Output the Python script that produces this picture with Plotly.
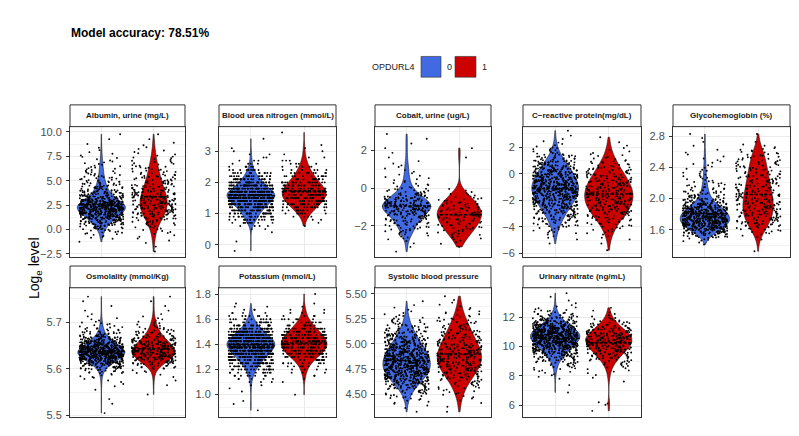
import plotly.graph_objects as go

# ---------------- DATA (histogram counts) ----------------
panel_titles = ["Albumin, urine (mg/L)", "Blood urea nitrogen (mmol/L)", "Cobalt, urine (ug/L)",
                "C\u2212reactive protein(mg/dL)", "Glycohemoglobin (%)", "Osmolality (mmol/Kg)",
                "Potassium (mmol/L)", "Systolic blood pressure", "Urinary nitrate (ng/mL)"]
group_labels = ["0", "1"]

# lower edge of first bin, bin width (log_e level)
bin_lo = [-2.5, -0.25, -3.5, -6.0, 1.3, 5.5, 0.8375, 4.3, 5.5]
bin_step = [0.5, 0.1, 0.25, 0.5, 0.05, 0.01, 0.025, 0.05, 0.25]
# measured on a discrete grid (stripes) or continuous
discrete = [False, True, False, False, False, False, True, False, False]

albumin_0 = [0, 0, 1, 5, 11, 22, 40, 65, 90, 110, 90, 55, 35, 25, 18, 13, 10, 8, 6, 4, 3, 2, 1, 1, 1]
albumin_1 = [1, 1, 2, 3, 5, 8, 13, 20, 26, 30, 31, 29, 25, 21, 18, 15, 12, 10, 8, 6, 4, 3, 2, 1, 1]
bun_0 = [1, 0, 0, 1, 0, 0, 1, 2, 4, 10, 15, 18, 25, 30, 38, 48, 56, 64, 70, 62, 50, 40, 32, 25, 18,
         13, 9, 6, 4, 3, 2, 2, 1, 1, 0, 0, 1, 0, 0]
bun_1 = [0, 0, 0, 0, 0, 0, 0, 0, 1, 1, 2, 4, 7, 10, 14, 18, 21, 24, 25, 25, 23, 20, 17, 14, 11,
         9, 7, 5, 4, 3, 2, 1, 1, 1, 1, 0, 0, 0, 1]
cobalt_0 = [1, 1, 2, 5, 9, 12, 16, 20, 28, 38, 40, 30, 20, 12, 7, 5, 4, 3, 3, 2, 1, 1, 1, 1, 1, 1, 0]
cobalt_1 = [0, 1, 3, 5, 8, 10, 12, 14, 15, 14, 12, 9, 6, 3, 0, 0, 0, 0, 0, 0, 1, 0, 1, 0, 0, 0, 0]
crp_0 = [0, 1, 4, 10, 20, 30, 45, 62, 76, 85, 83, 72, 58, 42, 25, 12, 5, 2, 1]
crp_1 = [1, 1, 4, 8, 14, 22, 31, 36, 38, 37, 33, 27, 20, 14, 8, 4, 2, 1, 0]
glyco_0 = [0, 0, 2, 6, 20, 40, 60, 75, 80, 80, 70, 55, 38, 26, 18, 13, 10, 8, 6, 5,
           4, 4, 3, 3, 2, 2, 1, 1, 1, 1, 1]
glyco_1 = [1, 0, 0, 1, 3, 6, 10, 13, 15, 16, 17, 18, 18, 17, 16, 15, 14, 14, 13, 12,
           11, 10, 10, 9, 8, 7, 5, 3, 1, 0, 1]
osmo_0 = [1, 0, 1, 1, 0, 1, 2, 3, 6, 14, 35, 70, 110, 130, 110, 75, 45, 22, 12, 7, 4, 2, 1, 1, 1, 1, 0]
osmo_1 = [0, 0, 0, 0, 1, 0, 1, 1, 2, 5, 14, 30, 45, 52, 48, 38, 26, 17, 11, 7, 4, 2, 1, 1, 1, 1, 0]
potassium_0 = [0, 1, 0, 1, 1, 0, 0, 1, 1, 2, 3, 5, 8, 12, 17, 24, 32, 40, 50, 60,
               70, 78, 82, 78, 68, 56, 44, 33, 24, 17, 11, 7, 4, 3, 2, 1, 0, 0, 0]
potassium_1 = [0, 0, 0, 0, 0, 0, 1, 0, 0, 0, 1, 1, 2, 3, 4, 6, 9, 13, 17, 22,
               26, 29, 30, 29, 27, 24, 20, 16, 12, 9, 6, 4, 3, 2, 1, 1, 0, 0, 1]
sbp_0 = [1, 2, 5, 10, 18, 30, 45, 60, 70, 75, 75, 70, 62, 52, 42, 32, 23, 16, 10, 6, 3, 2, 1, 0, 0]
sbp_1 = [1, 1, 2, 4, 6, 9, 13, 18, 23, 27, 30, 30, 29, 26, 22, 19, 16, 13, 10, 7, 5, 3, 2, 1, 0]
nitrate_0 = [0, 0, 0, 0, 0, 1, 0, 1, 0, 2, 3, 5, 8, 13, 20, 30, 42, 56, 70, 82,
             90, 88, 75, 56, 38, 24, 14, 8, 4, 2, 1, 1, 1]
nitrate_1 = [1, 0, 3, 0, 0, 0, 0, 0, 1, 1, 2, 3, 5, 8, 12, 16, 21, 26, 30, 32,
             32, 28, 21, 15, 10, 6, 3, 2, 1, 0, 0, 0, 0]

counts_0 = [albumin_0, bun_0, cobalt_0, crp_0, glyco_0, osmo_0, potassium_0, sbp_0, nitrate_0]
counts_1 = [albumin_1, bun_1, cobalt_1, crp_1, glyco_1, osmo_1, potassium_1, sbp_1, nitrate_1]

# y-axis tick settings (first tick, step, format)
tick_start = [-2.5, 0, -2, -6, 1.6, 5.5, 1.0, 4.5, 6]
tick_step = [2.5, 1, 2, 2, 0.4, 0.1, 0.2, 0.25, 2]
tick_fmt = [".1f", "d", "d", "d", ".1f", ".1f", ".1f", ".2f", "d"]

# ---------------- STYLE / LAYOUT ----------------
W, H = 799, 436
FONT = "Liberation Sans, Arial, sans-serif"
COLORS = ["#4169E1", "#CD0000"]
y_ranges = [(-2.83, 10.53), (-0.40, 3.79), (-3.67, 3.27), (-6.27, 3.55), (1.25, 2.92),
            (5.496, 5.774), (0.82, 1.85), (4.27, 5.56), (5.19, 13.99)]
violin_widths = [(0.92, 0.52), (0.9, 0.82), (0.92, 0.84), (0.87, 0.9), (0.93, 0.57),
                 (0.9, 0.82), (0.9, 0.86), (0.9, 0.84), (0.92, 0.86)]
col_px = [(62, 177), (211, 328), (367, 483), (515, 633), (665, 782)]
row_px = [(119, 251), (282, 413)]
strip_px = [(97, 119), (260, 282)]
JIT = 0.42


def expand(lo, step, counts, disc):
    vals = []
    for i, c in enumerate(counts):
        for k in range(c):
            frac = 0.5 if disc else (k + 0.5) / c
            vals.append(lo + step * (i + frac))
    return vals


def spread(n, half, seed):
    # quadratic Weyl sequence: deterministic, evenly covering jitter offsets
    a = 0.7548776662466927
    return [(((i + seed) * (i + seed + 1) / 2.0 * a) % 1.0 - 0.5) * 2 * half for i in range(n)]


def px_x(x):
    return x / W


def px_y(y):
    return 1 - y / H


fig = go.Figure()
layout = dict(width=W, height=H, margin=dict(l=0, r=0, t=0, b=0), autosize=False,
              plot_bgcolor="white", paper_bgcolor="white", showlegend=False,
              font=dict(family=FONT, color="#1a1a1a"))
shapes = []
annotations = []

for p in range(9):
    r, c = divmod(p, 5)
    xa = "x" if p == 0 else f"x{p + 1}"
    ya = "y" if p == 0 else f"y{p + 1}"
    x0, x1 = col_px[c]
    yt, yb = row_px[r]
    groups = [counts_0[p], counts_1[p]]
    for g in range(2):
        vals = expand(bin_lo[p], bin_step[p], groups[g], discrete[p])
        fig.add_trace(go.Violin(
            x0=g + 1, y=vals, orientation="v", width=violin_widths[p][g], scalemode="width",
            spanmode="hard", fillcolor=COLORS[g], line=dict(color="#1a1a1a", width=0.6),
            meanline=dict(visible=True, color="black", width=1.6), points=False,
            opacity=1, hoverinfo="skip", name=group_labels[g], xaxis=xa, yaxis=ya))
    for g in range(2):
        vals = expand(bin_lo[p], bin_step[p], groups[g], discrete[p])
        offs = spread(len(vals), JIT, 7 * p + 3 * g)
        fig.add_trace(go.Scatter(
            x=[g + 1 + o for o in offs], y=vals, mode="markers",
            marker=dict(size=1.9, color="black", line=dict(width=0)),
            hoverinfo="skip", xaxis=xa, yaxis=ya))

    key_x = "xaxis" if p == 0 else f"xaxis{p + 1}"
    key_y = "yaxis" if p == 0 else f"yaxis{p + 1}"
    layout[key_x] = dict(domain=[px_x(x0), px_x(x1)], range=[0.4, 2.6], anchor=ya,
                         tickmode="array", tickvals=[1, 2], showticklabels=False, ticks="",
                         showgrid=True, gridcolor="#EBEBEB", gridwidth=1, zeroline=False,
                         showline=True, mirror=True, linecolor="#333333", linewidth=1,
                         fixedrange=True)
    layout[key_y] = dict(domain=[px_y(yb), px_y(yt)], range=list(y_ranges[p]), anchor=xa,
                         tickmode="linear", tick0=tick_start[p], dtick=tick_step[p],
                         tickformat=tick_fmt[p], ticks="outside", ticklen=3,
                         tickcolor="#333333", tickwidth=0.8, ticklabelstandoff=2,
                         tickfont=dict(size=11, color="#4D4D4D", family=FONT),
                         showgrid=True, gridcolor="#EBEBEB", gridwidth=1, zeroline=False,
                         minor=dict(tick0=tick_start[p], dtick=tick_step[p] / 2, showgrid=True,
                                    gridcolor="#F3F3F3", gridwidth=0.6),
                         showline=True, mirror=True, linecolor="#333333", linewidth=1,
                         fixedrange=True)
    st, sb = strip_px[r]
    shapes.append(dict(type="rect", xref="paper", yref="paper", x0=px_x(x0), x1=px_x(x1),
                       y0=px_y(sb), y1=px_y(st), fillcolor="white",
                       line=dict(color="#333333", width=1), layer="above"))
    annotations.append(dict(text=f"<b>{panel_titles[p]}</b>", xref="paper", yref="paper",
                            x=px_x((x0 + x1) / 2), y=px_y((st + sb) / 2), showarrow=False,
                            xanchor="center", yanchor="middle",
                            font=dict(size=8, color="#1a1a1a", family=FONT)))

# title
annotations.append(dict(text="<b>Model accuracy: 78.51%</b>", xref="paper", yref="paper",
                        x=px_x(61), y=px_y(24), xanchor="left", yanchor="middle",
                        showarrow=False, font=dict(size=12, color="black", family=FONT)))
# legend
annotations.append(dict(text="OPDURL4", xref="paper", yref="paper", x=px_x(409), y=px_y(59),
                        xanchor="right", yanchor="middle", showarrow=False,
                        font=dict(size=9, color="#1a1a1a", family=FONT)))
leg_keys = [(413, 433), (447, 468)]
for g in range(2):
    kx0, kx1 = leg_keys[g]
    shapes.append(dict(type="rect", xref="paper", yref="paper", x0=px_x(kx0), x1=px_x(kx1),
                       y0=px_y(69), y1=px_y(48), fillcolor=COLORS[g],
                       line=dict(color="#333333", width=0.6)))
    annotations.append(dict(text=group_labels[g], xref="paper", yref="paper",
                            x=px_x(kx1 + 4), y=px_y(59), xanchor="left", yanchor="middle",
                            showarrow=False, font=dict(size=9, color="#1a1a1a", family=FONT)))
# y title
annotations.append(dict(text="Log<sub>e</sub> level", xref="paper", yref="paper",
                        x=px_x(27), y=px_y(262), xanchor="center", yanchor="middle",
                        textangle=-90, showarrow=False,
                        font=dict(size=14, color="black", family=FONT)))

layout["shapes"] = shapes
layout["annotations"] = annotations
fig.update_layout(**layout)
fig.write_html("out.html", config={"displayModeBar": False})
